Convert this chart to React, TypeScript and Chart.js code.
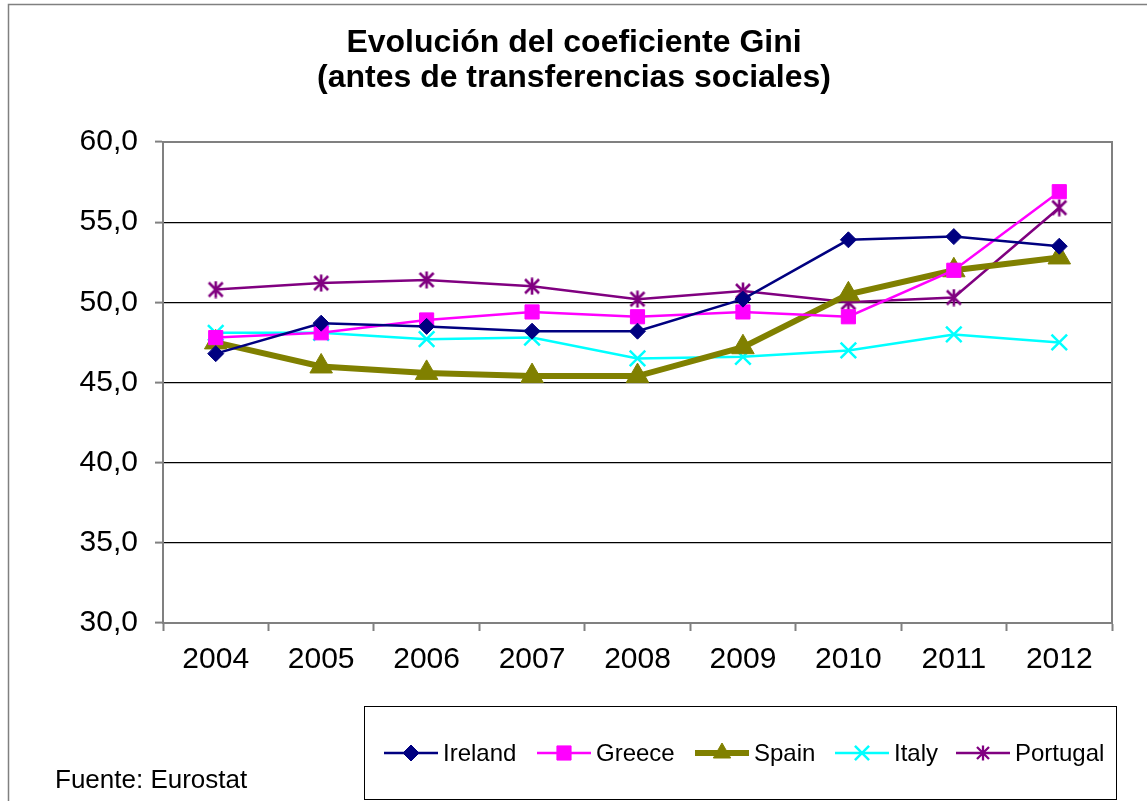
import React, { useEffect, useRef } from "react";
import { Chart, registerables } from "chart.js";
import { drawPoint } from "chart.js/helpers";

Chart.register(...registerables);

const years = ["2004", "2005", "2006", "2007", "2008", "2009", "2010", "2011", "2012"];
const ireland = [46.8, 48.7, 48.5, 48.2, 48.2, 50.2, 53.9, 54.1, 53.5];
const greece = [47.8, 48.1, 48.9, 49.4, 49.1, 49.4, 49.1, 52.0, 56.9];
const spain = [47.5, 46.0, 45.6, 45.4, 45.4, 47.2, 50.5, 52.0, 52.8];
const italy = [48.1, 48.1, 47.7, 47.8, 46.5, 46.6, 47.0, 48.0, 47.5];
const portugal = [50.8, 51.2, 51.4, 51.0, 50.2, 50.7, 50.0, 50.3, 55.9];
const titleLines = ["Evolución del coeficiente Gini", "(antes de transferencias sociales)"];
const sourceText = "Fuente: Eurostat";

const W = 1147;
const H = 801;
const FONT = "Arial, 'Liberation Sans', sans-serif";

function makeAsterisk(color: string, size: number, lw: number) {
  const c = document.createElement("canvas");
  c.width = size;
  c.height = size;
  const g = c.getContext("2d")!;
  g.strokeStyle = color;
  g.lineWidth = lw;
  const m = 2;
  g.beginPath();
  g.moveTo(m, m);
  g.lineTo(size - m, size - m);
  g.moveTo(size - m, m);
  g.lineTo(m, size - m);
  g.moveTo(size / 2, 0.5);
  g.lineTo(size / 2, size - 0.5);
  g.stroke();
  return c;
}

export default function App() {
  const ref = useRef<HTMLCanvasElement | null>(null);

  useEffect(() => {
    if (!ref.current) return;
    const star = makeAsterisk("#800080", 18, 2.6);
    const starSmall = makeAsterisk("#800080", 16, 2.3);

    const legendItems = [
      { label: "Ireland", color: "#000080", lw: 2.5, style: "rectRot", r: 8, tx: 443 },
      { label: "Greece", color: "#FF00FF", lw: 2.5, style: "rect", r: 10, tx: 596 },
      { label: "Spain", color: "#808000", lw: 6, style: "triangle", r: 10, tx: 754 },
      { label: "Italy", color: "#00FFFF", lw: 2.5, style: "crossRot", r: 10, tx: 894 },
      { label: "Portugal", color: "#800080", lw: 2.5, style: "img", r: 8, tx: 1015 },
    ];

    const decor = {
      id: "decor",
      beforeDatasetsDraw(chart: any) {
        const { ctx, chartArea } = chart;
        ctx.save();
        ctx.strokeStyle = "#808080";
        ctx.lineWidth = 2;
        ctx.strokeRect(chartArea.left, chartArea.top, chartArea.right - chartArea.left, chartArea.bottom - chartArea.top);
        ctx.restore();
      },
      afterDraw(chart: any) {
        const { ctx } = chart;
        ctx.save();
        // outer frame (top and left edges visible)
        ctx.strokeStyle = "#808080";
        ctx.lineWidth = 1.5;
        ctx.beginPath();
        ctx.moveTo(8.5, H);
        ctx.lineTo(8.5, 4.5);
        ctx.lineTo(W, 4.5);
        ctx.stroke();
        // title
        ctx.fillStyle = "#000";
        ctx.textAlign = "center";
        ctx.textBaseline = "middle";
        ctx.font = `bold 32px ${FONT}`;
        ctx.fillText(titleLines[0], 574, 43);
        ctx.fillText(titleLines[1], 574, 78);
        // source
        ctx.textAlign = "left";
        ctx.font = `26px ${FONT}`;
        ctx.fillText(sourceText, 55, 781);
        // legend box
        ctx.strokeStyle = "#000";
        ctx.lineWidth = 1;
        ctx.strokeRect(364.5, 706.5, 752, 93);
        const ly = 753;
        ctx.font = `24px ${FONT}`;
        legendItems.forEach((it) => {
          const x0 = it.tx - 59;
          const x1 = it.tx - 5;
          ctx.strokeStyle = it.color;
          ctx.lineWidth = it.lw;
          ctx.beginPath();
          ctx.moveTo(x0, ly);
          ctx.lineTo(x1, ly);
          ctx.stroke();
          const cx = (x0 + x1) / 2;
          ctx.fillStyle = it.color;
          ctx.strokeStyle = it.color;
          ctx.lineWidth = it.style === "crossRot" ? 2.5 : 1;
          if (it.style === "img") {
            drawPoint(ctx, { pointStyle: starSmall, radius: it.r, rotation: 0, borderWidth: 1 } as any, cx, ly);
          } else {
            drawPoint(ctx, { pointStyle: it.style, radius: it.r, rotation: 0, borderWidth: ctx.lineWidth } as any, cx, ly);
          }
          ctx.fillStyle = "#000";
          ctx.textAlign = "left";
          ctx.textBaseline = "middle";
          ctx.fillText(it.label, it.tx, ly + 1);
        });
        ctx.restore();
      },
    };

    const chart = new Chart(ref.current, {
      type: "line",
      data: {
        labels: years,
        datasets: [
          {
            label: "Ireland",
            data: ireland,
            borderColor: "#000080",
            backgroundColor: "#000080",
            borderWidth: 2.5,
            pointStyle: "rectRot",
            pointRadius: 8,
            pointBorderWidth: 1,
          },
          {
            label: "Greece",
            data: greece,
            borderColor: "#FF00FF",
            backgroundColor: "#FF00FF",
            borderWidth: 2.5,
            pointStyle: "rect",
            pointRadius: 10,
            pointBorderWidth: 1,
          },
          {
            label: "Spain",
            data: spain,
            borderColor: "#808000",
            backgroundColor: "#808000",
            borderWidth: 6,
            pointStyle: "triangle",
            pointRadius: 13,
            pointBorderWidth: 1,
          },
          {
            label: "Italy",
            data: italy,
            borderColor: "#00FFFF",
            backgroundColor: "#00FFFF",
            borderWidth: 2.5,
            pointStyle: "crossRot",
            pointRadius: 11,
            pointBorderWidth: 2.5,
          },
          {
            label: "Portugal",
            data: portugal,
            borderColor: "#800080",
            backgroundColor: "#800080",
            borderWidth: 2.5,
            pointStyle: star as any,
            pointRadius: 9,
            pointBorderWidth: 1,
          },
        ],
      },
      options: {
        responsive: false,
        animation: false,
        devicePixelRatio: 1,
        layout: { padding: { top: 142, right: 35, left: 0, bottom: 0 } },
        plugins: {
          legend: { display: false },
          title: { display: false },
          tooltip: { enabled: false },
        },
        elements: { line: { tension: 0 } },
        scales: {
          x: {
            offset: true,
            grid: {
              offset: true,
              drawOnChartArea: false,
              tickLength: 8,
              tickColor: "#808080",
              tickWidth: 2,
            },
            border: { color: "#808080", width: 2 },
            ticks: { color: "#000", font: { family: FONT, size: 30 }, padding: 11, maxRotation: 0 },
            afterFit(scale: any) {
              scale.height = H - 623;
            },
          },
          y: {
            min: 30,
            max: 60,
            ticks: {
              stepSize: 5,
              color: "#000",
              font: { family: FONT, size: 30 },
              padding: 17,
              callback: (v: any) => Number(v).toFixed(1).replace(".", ","),
            },
            grid: {
              color: (c: any) => (c.tick && (c.tick.value === 30 || c.tick.value === 60) ? "rgba(0,0,0,0)" : "#000"),
              lineWidth: 1.2,
              tickLength: 8,
              tickColor: "#808080",
              tickWidth: 2,
            },
            border: { color: "#808080", width: 2 },
            afterFit(scale: any) {
              scale.width = 163;
            },
          },
        },
      },
      plugins: [decor],
    });
    return () => chart.destroy();
  }, []);

  return (
    <div style={{ position: "absolute", left: 0, top: 0, width: W, height: H, background: "#fff" }}>
      <canvas ref={ref} width={W} height={H} style={{ width: W, height: H, display: "block" }} />
    </div>
  );
}
